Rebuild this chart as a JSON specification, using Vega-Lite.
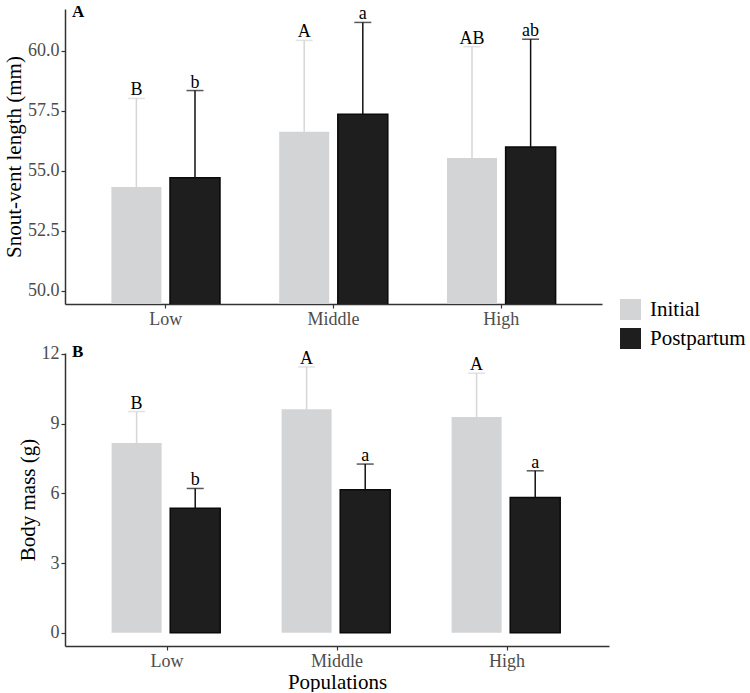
{
  "$schema": "https://vega.github.io/schema/vega-lite/v6.json",
  "padding": {"top": 3, "left": 3, "right": 0, "bottom": 0},
  "datasets": {
    "svl": [
      {"Population": "Low", "Period": "Initial", "Mean": 54.32, "Upper": 58.01, "Letter": "B"},
      {"Population": "Low", "Period": "Postpartum", "Mean": 54.70, "Upper": 58.34, "Letter": "b"},
      {"Population": "Middle", "Period": "Initial", "Mean": 56.62, "Upper": 60.43, "Letter": "A"},
      {"Population": "Middle", "Period": "Postpartum", "Mean": 57.35, "Upper": 61.18, "Letter": "a"},
      {"Population": "High", "Period": "Initial", "Mean": 55.53, "Upper": 60.17, "Letter": "AB"},
      {"Population": "High", "Period": "Postpartum", "Mean": 55.99, "Upper": 60.48, "Letter": "ab"}
    ],
    "mass": [
      {"Population": "Low", "Period": "Initial", "Mean": 8.17, "Upper": 9.52, "Letter": "B"},
      {"Population": "Low", "Period": "Postpartum", "Mean": 5.36, "Upper": 6.21, "Letter": "b"},
      {"Population": "Middle", "Period": "Initial", "Mean": 9.62, "Upper": 11.44, "Letter": "A"},
      {"Population": "Middle", "Period": "Postpartum", "Mean": 6.15, "Upper": 7.26, "Letter": "a"},
      {"Population": "High", "Period": "Initial", "Mean": 9.29, "Upper": 11.17, "Letter": "A"},
      {"Population": "High", "Period": "Postpartum", "Mean": 5.82, "Upper": 6.97, "Letter": "a"}
    ]
  },
  "vconcat": [
    {
      "data": {"name": "svl"},
      "width": 537,
      "height": 295,
      "title": {"text": "A", "anchor": "start", "frame": "group", "offset": -29, "baseline": "alphabetic", "dx": 7, "fontSize": 17, "fontWeight": "bold", "font": "Liberation Serif", "color": "black"},
      "encoding": {
        "x": {
          "field": "Population",
          "type": "nominal",
          "sort": ["Low", "Middle", "High"],
          "scale": {"paddingInner": 0, "paddingOuter": 0.1},
          "axis": {"title": null}
        },
        "xOffset": {
          "field": "Period",
          "type": "nominal",
          "scale": {"paddingInner": 0.147, "paddingOuter": 0.505}
        }
      },
      "layer": [
        {
          "mark": {"type": "bar", "clip": true, "strokeWidth": 1.5},
          "encoding": {
            "y": {
              "field": "Mean",
              "type": "quantitative",
              "scale": {"domain": [49.44, 61.74], "zero": false, "nice": false},
              "axis": {"title": "Snout-vent length (mm)", "values": [50, 52.5, 55, 57.5, 60], "format": ".1f"}
            },
            "color": {
              "field": "Period",
              "type": "nominal",
              "scale": {"domain": ["Initial", "Postpartum"], "range": ["#d3d4d6", "#1e1e1e"]},
              "legend": {
                "orient": "none", "legendX": 555, "legendY": 290, "title": null,
                "symbolType": "square", "symbolSize": 441, "symbolStrokeWidth": 0, "symbolOpacity": 1,
                "labelFontSize": 21, "labelFont": "Liberation Serif", "labelColor": "black",
                "labelOffset": 9, "rowPadding": 7, "padding": 0
              }
            },
            "stroke": {"condition": {"test": "datum.Period == 'Postpartum'", "value": "#0a0a0a"}, "value": null}
          }
        },
        {
          "mark": {"type": "rule", "strokeWidth": 1.5},
          "encoding": {
            "y": {"field": "Mean", "type": "quantitative"},
            "y2": {"field": "Upper"},
            "color": {"condition": {"test": "datum.Period == 'Postpartum'", "value": "#111111"}, "value": "#d6d6d6"}
          }
        },
        {
          "mark": {"type": "tick", "size": 17, "thickness": 1.5},
          "encoding": {
            "y": {"field": "Upper", "type": "quantitative"},
            "color": {"condition": {"test": "datum.Period == 'Postpartum'", "value": "#111111"}, "value": "#d6d6d6"}
          }
        },
        {
          "mark": {"type": "text", "baseline": "alphabetic", "dy": -3, "fontSize": 18, "font": "Liberation Serif", "color": "black"},
          "encoding": {
            "y": {"field": "Upper", "type": "quantitative"},
            "text": {"field": "Letter"}
          }
        }
      ]
    },
    {
      "data": {"name": "mass"},
      "width": 544,
      "height": 293,
      "title": {"text": "B", "anchor": "start", "frame": "group", "offset": -29, "baseline": "alphabetic", "dx": 7, "fontSize": 17, "fontWeight": "bold", "font": "Liberation Serif", "color": "black"},
      "encoding": {
        "x": {
          "field": "Population",
          "type": "nominal",
          "sort": ["Low", "Middle", "High"],
          "scale": {"paddingInner": 0, "paddingOuter": 0.1},
          "axis": {"title": "Populations"}
        },
        "xOffset": {
          "field": "Period",
          "type": "nominal",
          "scale": {"paddingInner": 0.25, "paddingOuter": 0.375}
        }
      },
      "layer": [
        {
          "mark": {"type": "bar", "clip": true, "strokeWidth": 1.5},
          "encoding": {
            "y": {
              "field": "Mean",
              "type": "quantitative",
              "scale": {"domain": [-0.57, 12.04], "nice": false},
              "axis": {"title": "Body mass (g)", "values": [0, 3, 6, 9, 12]}
            },
            "y2": {"datum": 0},
            "color": {
              "field": "Period",
              "type": "nominal",
              "scale": {"domain": ["Initial", "Postpartum"], "range": ["#d3d4d6", "#1e1e1e"]},
              "legend": null
            },
            "stroke": {"condition": {"test": "datum.Period == 'Postpartum'", "value": "#0a0a0a"}, "value": null}
          }
        },
        {
          "mark": {"type": "rule", "strokeWidth": 1.5},
          "encoding": {
            "y": {"field": "Mean", "type": "quantitative"},
            "y2": {"field": "Upper"},
            "color": {"condition": {"test": "datum.Period == 'Postpartum'", "value": "#111111"}, "value": "#d6d6d6"}
          }
        },
        {
          "mark": {"type": "tick", "size": 17, "thickness": 1.5},
          "encoding": {
            "y": {"field": "Upper", "type": "quantitative"},
            "color": {"condition": {"test": "datum.Period == 'Postpartum'", "value": "#111111"}, "value": "#d6d6d6"}
          }
        },
        {
          "mark": {"type": "text", "baseline": "alphabetic", "dy": -3, "fontSize": 18, "font": "Liberation Serif", "color": "black"},
          "encoding": {
            "y": {"field": "Upper", "type": "quantitative"},
            "text": {"field": "Letter"}
          }
        }
      ]
    }
  ],
  "spacing": 49,
  "bounds": "flush",
  "resolve": {"scale": {"color": "independent", "y": "independent"}, "legend": {"color": "independent"}},
  "config": {
    "font": "Liberation Serif",
    "view": {"stroke": null},
    "axis": {
      "grid": false,
      "domainColor": "#333333",
      "domainWidth": 1.5,
      "tickColor": "#333333",
      "tickWidth": 1.2,
      "tickSize": 4,
      "labelFont": "Liberation Serif",
      "labelFontSize": 18,
      "labelColor": "#4d4d4d",
      "labelPadding": 2,
      "titleFont": "Liberation Serif",
      "titleFontSize": 21,
      "titleFontWeight": "normal",
      "titleColor": "black"
    },
    "axisX": {"labelAngle": 0, "labelPadding": 2, "titlePadding": 1},
    "axisY": {"titlePadding": 3}
  }
}
